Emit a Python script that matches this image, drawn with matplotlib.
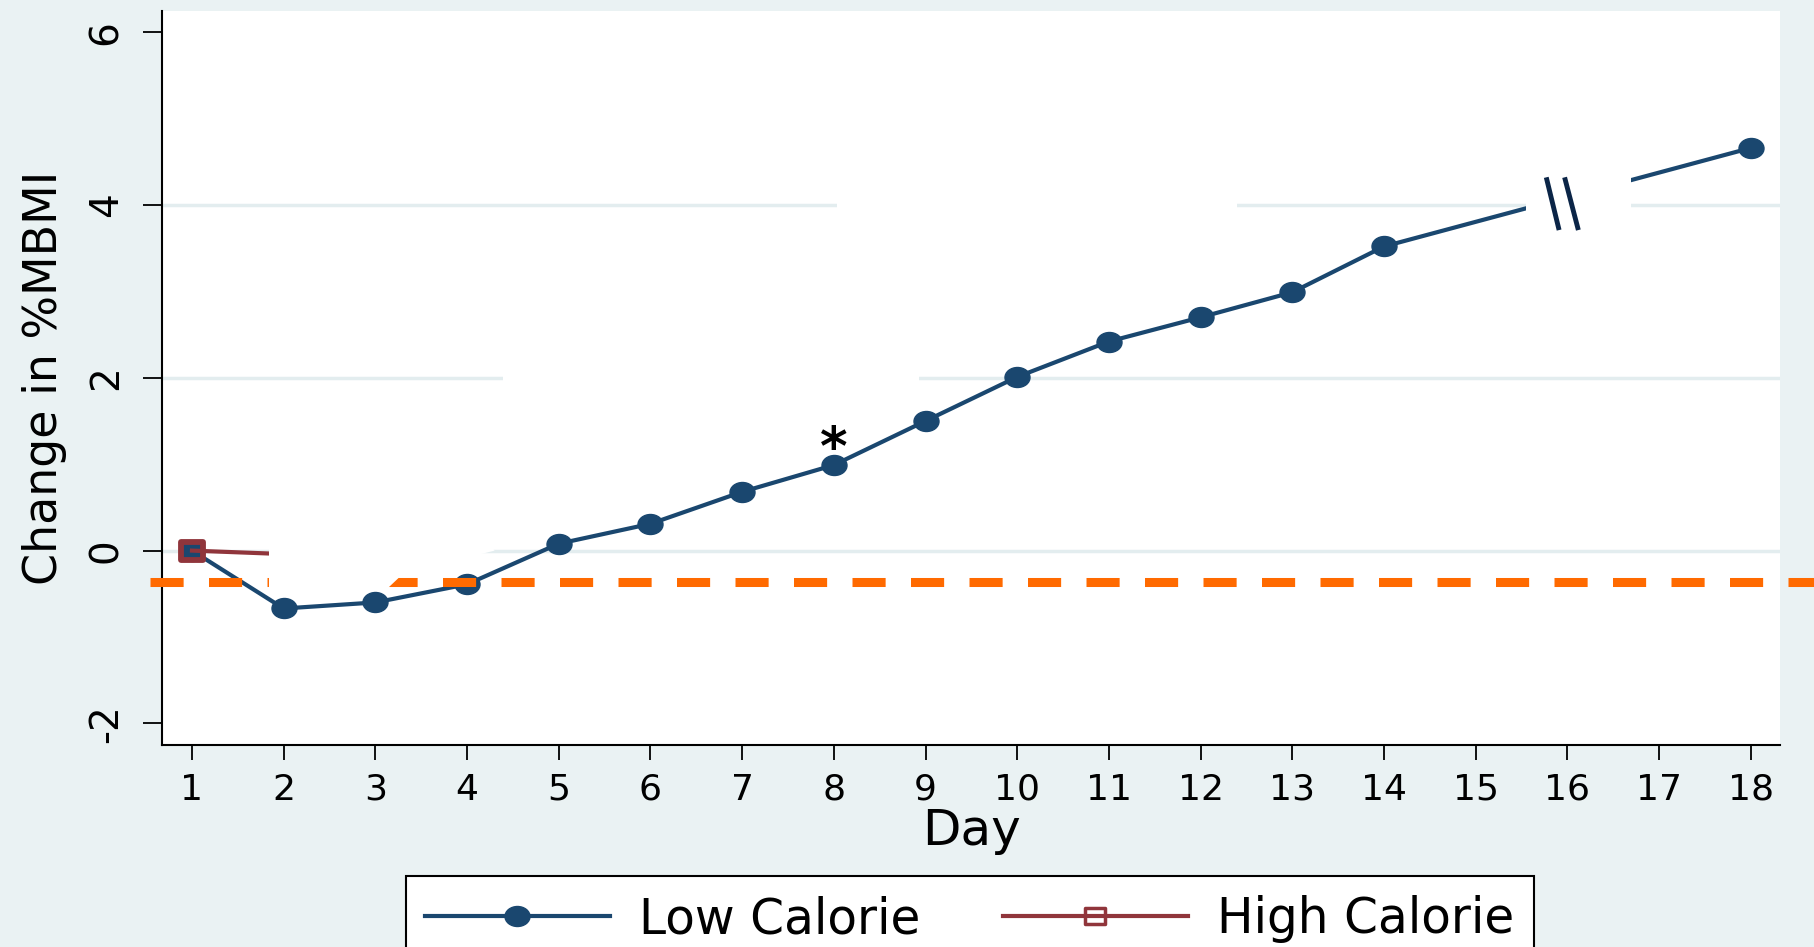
import matplotlib
matplotlib.use('Agg')
import matplotlib.pyplot as plt
from matplotlib.path import Path
from matplotlib.lines import Line2D
from matplotlib.patches import Rectangle, Polygon

# values
low_days = [1, 2, 3, 4, 5, 6, 7, 8, 9, 10, 11, 12, 13, 14, 18]
low_vals = [0.0, -0.67, -0.60, -0.39, 0.08, 0.31, 0.68, 0.99, 1.50, 2.01, 2.42, 2.70, 2.99, 3.52, 4.66]
high_days = [1, 2]
high_vals = [0.0, -0.04]
ref_level = -0.36
sig_day = 8
day_ticks = list(range(1, 19))
y_ticks = [-2, 0, 2, 4, 6]
grid_levels = [0, 2, 4]
series_names = ['Low Calorie', 'High Calorie']

plt.rcParams['font.family'] = 'DejaVu Sans'
plt.rcParams['axes.unicode_minus'] = False

bg = '#EAF2F3'
navy = '#1A476F'
maroon = '#90353B'
orange = '#FF6A00'

fig = plt.figure(figsize=(18.14, 9.47), dpi=100, facecolor=bg)
ax = fig.add_axes([0.0893, 0.2133, 0.892, 0.7746])
ax.set_facecolor('white')

# stata symbols look a bit wide in the picture
circ = Path.unit_circle()
oval = Path(circ.vertices * [1.0, 0.8], circ.codes)
sq = Path.unit_rectangle()
box = Path((sq.vertices - 0.5) * [1.0, 0.78], sq.codes)

for g in grid_levels:
    ax.axhline(g, color='#E3EDEF', lw=2.5, zorder=0.5)
# bits of gridline that are blanked out in the original
for g, x0, x1 in [(2, 4.39, 8.93), (4, 8.04, 12.40)]:
    ax.add_patch(Rectangle((x0, g - 0.06), x1 - x0, 0.12, fc='white', ec='none', zorder=0.6))

ax.plot(low_days, low_vals, color=navy, lw=3, marker=oval, ms=18,
        mfc=navy, mec=navy, zorder=3)
ax.plot(high_days, high_vals, color=maroon, lw=3, marker=box, ms=16,
        mfc='none', mec=maroon, mew=4.2, zorder=4)

ax.axhline(ref_level, xmin=-0.0074, xmax=1.03, color=orange, lw=6.5,
           ls=(0, (3.67, 2.81)), clip_on=False, zorder=5)

# white-out over high calorie series after day 1
ax.add_patch(Polygon([(1.84, 0.15), (4.2, 0.15), (4.3, 0.0), (3.3, -0.27),
                      (3.12, -0.45), (1.84, -0.45)], closed=True,
                     fc='white', ec='none', zorder=6))

# axis break between 14 and 18
ax.add_patch(Rectangle((15.55, 3.6), 1.14, 0.85, fc='white', ec='none', zorder=6))
ax.plot([15.77, 15.91], [4.32, 3.71], color='#0B2547', lw=3.5, solid_capstyle='butt', zorder=7)
ax.plot([15.97, 16.12], [4.32, 3.71], color='#0B2547', lw=3.5, solid_capstyle='butt', zorder=7)

ax.annotate('*', xy=(sig_day, low_vals[low_days.index(sig_day)]), xytext=(0, 0),
            textcoords='offset points', ha='center', va='baseline',
            fontsize=38, fontweight='bold', zorder=8)

ax.set_xlim(0.673, 18.32)
ax.set_ylim(-2.25, 6.24)
ax.set_xticks(day_ticks)
ax.set_yticks(y_ticks)
ax.set_yticklabels([str(t) for t in y_ticks], rotation=90, va='center')
ax.tick_params(axis='x', length=10.8, width=1.3, labelsize=26, pad=9)
ax.tick_params(axis='y', length=13.7, width=1.3, labelsize=28, pad=13)
for s in ['top', 'right']:
    ax.spines[s].set_visible(False)
for s in ['left', 'bottom']:
    ax.spines[s].set_linewidth(1.5)

ax.set_xlabel('Day', fontsize=36, labelpad=0)
ax.set_ylabel('Change in %MBMI', fontsize=33)
ax.yaxis.set_label_coords(-0.0587, 0.5)

handles = [Line2D([], [], color=navy, lw=3, marker=oval, ms=18, mfc=navy, mec=navy),
           Line2D([], [], color=maroon, lw=3, marker=box, ms=14, mfc='none', mec=maroon, mew=2.5)]
leg = fig.legend(handles, series_names, loc='upper center', bbox_to_anchor=(0.5345, 1 - 876 / 947),
                 ncol=2, fontsize=35, frameon=True, fancybox=False, edgecolor='black',
                 framealpha=1, handlelength=3.8, handletextpad=0.6, columnspacing=1.7,
                 borderpad=0.4, borderaxespad=0)
leg.get_frame().set_linewidth(1.5)

plt.savefig('out.png', dpi=100, facecolor=bg)
